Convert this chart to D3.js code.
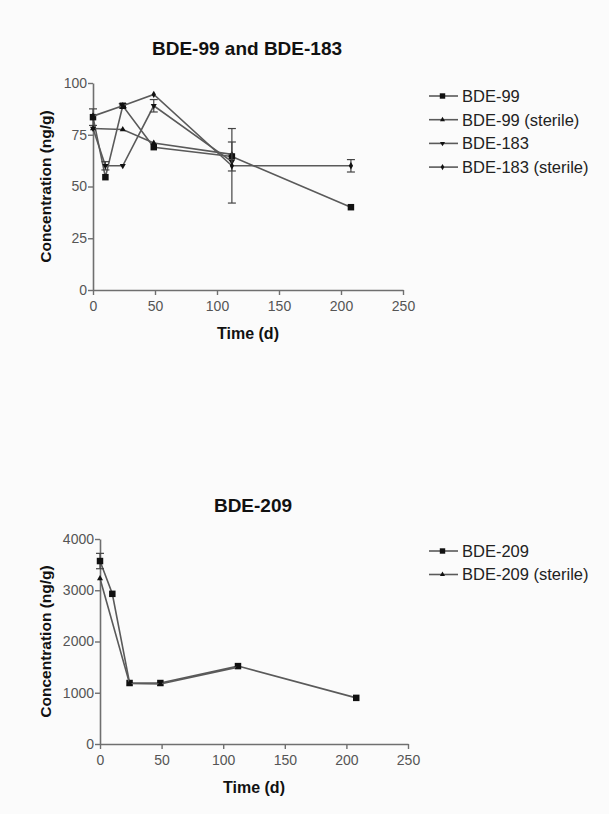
<!DOCTYPE html>
<html>
<head>
<meta charset="utf-8">
<script src="https://cdn.jsdelivr.net/npm/d3@7"></script>
<style>
  body { margin: 0; background: #fbfbfb; }
  text { font-family: "Liberation Sans", Arial, sans-serif; }
</style>
</head>
<body>
<div id="chart"></div>
<script>
// top chart data
const days99 = [0, 10, 24, 49, 112, 208];
const bde99 = [83.5, 54.5, 89, 69, 64.5, 40];
const bde99Err = [4, 0, 1, 0, 7, 0];
const days99s = [0, 24, 49, 112];
const bde99s = [78, 77.5, 71, 65.5];
const days183 = [0, 10, 24, 49, 112];
const bde183 = [78, 60, 60, 89, 62];
const bde183Err = [0, 2, 0, 3, 0];
const days183s = [0, 24, 49, 112, 208];
const bde183s = [84, 89, 94.5, 60, 60];
const bde183sErr = [0, 0, 0, 18, 3];
const yTicksTop = [0, 25, 50, 75, 100];

// bottom chart data
const days209 = [0, 10, 24, 49, 112, 208];
const bde209 = [3570, 2930, 1190, 1190, 1520, 900];
const bde209Err = [150, 0, 0, 0, 0, 0];
const days209s = [0, 24, 49, 112];
const bde209s = [3230, 1180, 1170, 1500];
const yTicksBottom = [0, 1000, 2000, 3000, 4000];
const xTicks = [0, 50, 100, 150, 200, 250];

const svgWidth = 609, svgHeight = 814;
const svg = d3.select("#chart").append("svg")
    .attr("width", svgWidth)
    .attr("height", svgHeight);

const axisColor = "#6f6f6f";
const lineColor = "#5a5a5a";

//symbol shapes
const shapes = {
  square: { type: d3.symbolSquare, size: 42, rot: 0 },
  up: { type: d3.symbolTriangle, size: 16, rot: 0 },
  down: { type: d3.symbolTriangle, size: 16, rot: 180 },
  diamond: { type: d3.symbolDiamond, size: 16, rot: 0 }
};

function zip(xs, ys, es) {
  return xs.map((x, i) => ({ x: x, y: ys[i], e: es ? es[i] : 0 }));
}

function makeChart(opt) {
  const g = svg.append("g");
  const x = d3.scaleLinear().domain([0, 250]).range(opt.xRange);
  const y = d3.scaleLinear().domain(opt.yDomain).range(opt.yRange);

  // title
  g.append("text")
    .attr("x", opt.titleX).attr("y", opt.titleY)
    .attr("text-anchor", "middle")
    .style("font-size", "19px").style("font-weight", "bold")
    .attr("fill", "#111")
    .text(opt.title);

  // axes
  const xAxis = g.append("g")
    .attr("transform", `translate(0, ${opt.yRange[0]})`)
    .call(d3.axisBottom(x).tickValues(xTicks).tickSize(5).tickSizeOuter(0));
  const yAxis = g.append("g")
    .attr("transform", `translate(${opt.xRange[0]}, 0)`)
    .call(d3.axisLeft(y).tickValues(opt.yTicks).tickFormat(d3.format("d")).tickSize(5).tickSizeOuter(0));
  [xAxis, yAxis].forEach(a => {
    a.select(".domain").attr("stroke", axisColor).attr("stroke-width", 1.6);
    a.selectAll(".tick line").attr("stroke", axisColor).attr("stroke-width", 1.4);
    a.selectAll(".tick text").attr("fill", "#555").style("font-size", "14px")
      .style("font-family", "Liberation Sans, Arial, sans-serif");
  });
  xAxis.selectAll(".tick text").attr("dy", "0.95em");
  yAxis.selectAll(".tick text").attr("x", -6);

  // axis labels
  g.append("text")
    .attr("x", (opt.xRange[0] + opt.xRange[1]) / 2).attr("y", opt.yRange[0] + 49)
    .attr("text-anchor", "middle")
    .style("font-size", "16px").style("font-weight", "bold").attr("fill", "#111")
    .text("Time (d)");
  g.append("text")
    .attr("transform", `translate(51, ${(opt.yRange[0] + opt.yRange[1]) / 2}) rotate(-90)`)
    .attr("text-anchor", "middle")
    .style("font-size", "15.5px").style("font-weight", "bold").attr("fill", "#111")
    .text("Concentration (ng/g)");

  const line = d3.line().x(d => x(d.x)).y(d => y(d.y));

  opt.series.forEach((s, k) => {
    const pts = zip(s.days, s.values, s.err);
    g.append("path")
      .datum(pts)
      .attr("d", line)
      .attr("fill", "none")
      .attr("stroke", lineColor)
      .attr("stroke-width", 1.6);

    // error bars
    const eb = g.append("g").selectAll("g")
      .data(pts.filter(d => d.e > 0))
      .enter().append("g")
      .attr("stroke", "#444").attr("stroke-width", 1.2);
    eb.append("line")
      .attr("x1", d => x(d.x)).attr("x2", d => x(d.x))
      .attr("y1", d => y(d.y - d.e)).attr("y2", d => y(d.y + d.e));
    eb.append("line")
      .attr("x1", d => x(d.x) - 4).attr("x2", d => x(d.x) + 4)
      .attr("y1", d => y(d.y - d.e)).attr("y2", d => y(d.y - d.e));
    eb.append("line")
      .attr("x1", d => x(d.x) - 4).attr("x2", d => x(d.x) + 4)
      .attr("y1", d => y(d.y + d.e)).attr("y2", d => y(d.y + d.e));

    const sh = shapes[s.shape];
    g.append("g").selectAll("path")
      .data(pts)
      .enter().append("path")
      .attr("d", d3.symbol().type(sh.type).size(sh.size))
      .attr("transform", d => `translate(${x(d.x)}, ${y(d.y)}) rotate(${sh.rot})`)
      .attr("fill", "#111");

    // legend row
    const ly = opt.legendY + k * opt.legendStep;
    g.append("line")
      .attr("x1", 429).attr("x2", 458).attr("y1", ly).attr("y2", ly)
      .attr("stroke", lineColor).attr("stroke-width", 1.6);
    g.append("path")
      .attr("d", d3.symbol().type(sh.type).size(sh.size * 0.7))
      .attr("transform", `translate(442.5, ${ly}) rotate(${sh.rot})`)
      .attr("fill", "#111");
    g.append("text")
      .attr("x", 462).attr("y", ly).attr("dy", "0.36em")
      .style("font-size", "16.5px").attr("fill", "#222")
      .text(s.name);
  });
}

makeChart({
  title: "BDE-99 and BDE-183", titleX: 247, titleY: 55,
  xRange: [93, 403], yRange: [290, 83], yDomain: [0, 100], yTicks: yTicksTop,
  legendY: 96, legendStep: 23.7,
  series: [
    { name: "BDE-99", days: days99, values: bde99, err: bde99Err, shape: "square" },
    { name: "BDE-99 (sterile)", days: days99s, values: bde99s, err: null, shape: "up" },
    { name: "BDE-183", days: days183, values: bde183, err: bde183Err, shape: "down" },
    { name: "BDE-183 (sterile)", days: days183s, values: bde183s, err: bde183sErr, shape: "diamond" }
  ]
});

makeChart({
  title: "BDE-209", titleX: 253, titleY: 512,
  xRange: [100, 408], yRange: [744, 539], yDomain: [0, 4000], yTicks: yTicksBottom,
  legendY: 551, legendStep: 23.5,
  series: [
    { name: "BDE-209", days: days209, values: bde209, err: bde209Err, shape: "square" },
    { name: "BDE-209 (sterile)", days: days209s, values: bde209s, err: null, shape: "up" }
  ]
});
</script>
</body>
</html>
